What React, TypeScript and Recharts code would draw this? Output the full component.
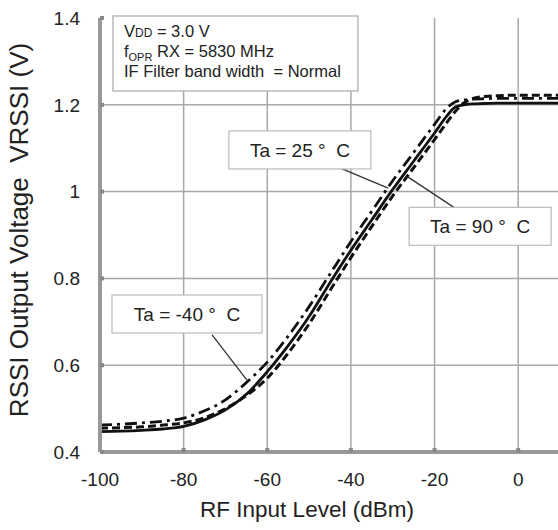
import { CartesianGrid, Label, Line, LineChart, ReferenceDot, ReferenceLine, XAxis, YAxis } from "recharts";

// RF input level (dBm) sample points shared by all three curves.
const inputLevels = [-100, -95, -90, -85, -80, -75, -70, -65, -60, -55, -50, -45, -40, -35, -30, -25, -20, -17, -15, -13, -11, -8, -5, 0, 5, 10];

// VRSSI (V) per ambient temperature.
const vrssi25 = [0.447, 0.448, 0.45, 0.453, 0.459, 0.474, 0.497, 0.533, 0.585, 0.645, 0.712, 0.79, 0.865, 0.935, 1.005, 1.07, 1.135, 1.175, 1.195, 1.2, 1.202, 1.203, 1.204, 1.204, 1.204, 1.204];
const vrssi90 = [0.455, 0.456, 0.458, 0.462, 0.467, 0.479, 0.5, 0.53, 0.57, 0.628, 0.695, 0.772, 0.848, 0.92, 0.99, 1.055, 1.12, 1.16, 1.185, 1.204, 1.214, 1.219, 1.221, 1.222, 1.222, 1.222];
const vrssiM40 = [0.462, 0.464, 0.467, 0.471, 0.478, 0.495, 0.52, 0.56, 0.607, 0.667, 0.735, 0.81, 0.885, 0.955, 1.025, 1.09, 1.155, 1.193, 1.207, 1.211, 1.213, 1.214, 1.215, 1.215, 1.215, 1.215];

const xTicks = [-100, -80, -60, -40, -20, 0];
const yTicks = [0.4, 0.6, 0.8, 1, 1.2, 1.4];

const FONT = "'Liberation Sans', Arial, sans-serif";
const INK = "#222";

const data = inputLevels.map((x, i) => ({
  x,
  t25: vrssi25[i],
  t90: vrssi90[i],
  tm40: vrssiM40[i],
}));

// Temperature call-outs: box centre and leader line, in data coordinates.
const callouts = [
  { text: "Ta = 25 °  C", x: -52.2, y: 1.096, w: 142, from: { x: -45.5, y: 1.066 }, to: { x: -31.1, y: 1.008 } },
  { text: "Ta = 90 °  C", x: -9.1, y: 0.92, w: 142, from: { x: -26.4, y: 1.034 }, to: { x: -15.1, y: 0.962 } },
  { text: "Ta = -40 °  C", x: -79.2, y: 0.718, w: 150, from: { x: -73.2, y: 0.67 }, to: { x: -64.9, y: 0.566 } },
];

function calloutShape(text: string, w: number) {
  return (props: any) => {
    const { cx, cy } = props;
    return (
      <g>
        <rect x={cx - w / 2} y={cy - 19} width={w} height={38} fill="#fff" stroke="#bbb" strokeWidth={1.2} />
        <text x={cx} y={cy + 7} textAnchor="middle" fontFamily={FONT} fontSize={19} fill={INK} style={{ whiteSpace: "pre" }}>
          {text}
        </text>
      </g>
    );
  };
}

function infoShape(props: any) {
  const { cx, cy } = props;
  const tx = cx + 11;
  return (
    <g fontFamily={FONT} fill={INK}>
      <rect x={cx} y={cy - 2} width={245} height={75} fill="#fff" stroke="#aaa" strokeWidth={1.2} />
      <text x={tx} y={cy + 19} fontSize={16.5} fill={INK}>
        V<tspan fontSize={12}>DD</tspan> = 3.0 V
      </text>
      <text x={tx} y={cy + 39} fontSize={16.5} fill={INK}>
        f<tspan fontSize={11} dy={4}>OPR</tspan>
        <tspan dy={-4}> RX = 5830 MHz</tspan>
      </text>
      <text x={tx} y={cy + 59} fontSize={16.5} fill={INK} style={{ whiteSpace: "pre" }}>
        {"IF Filter band width  = Normal"}
      </text>
    </g>
  );
}

export default function App() {
  return (
    <div style={{ position: "absolute", left: 0, top: 0, width: 558, height: 530, overflow: "hidden", background: "#fff" }}>
      <LineChart width={562} height={530} data={data} margin={{ top: 18, right: 2, bottom: 18, left: 0 }}>
        <CartesianGrid
          stroke="#a8a8a8"
          strokeWidth={1.5}
          horizontalValues={[0.6, 0.8, 1, 1.2]}
          verticalValues={[-80, -60, -40, -20, 0]}
        />
        <XAxis
          dataKey="x"
          type="number"
          domain={[-100, 10]}
          ticks={xTicks}
          height={60}
          axisLine={{ stroke: "#999", strokeWidth: 4 }}
          tickLine={{ stroke: "#888", strokeWidth: 4 }}
          tickSize={-4}
          tickMargin={25}
          tick={{ fontFamily: FONT, fontSize: 19, fill: INK }}
        >
          <Label
            content={() => (
              <text x={307} y={517} textAnchor="middle" fontFamily={FONT} fontSize={22.5} fill={INK}>
                RF Input Level (dBm)
              </text>
            )}
          />
        </XAxis>
        <YAxis
          type="number"
          domain={[0.4, 1.4]}
          ticks={yTicks}
          width={100}
          tickFormatter={(v) => String(v)}
          axisLine={{ stroke: "#999", strokeWidth: 4 }}
          tickLine={{ stroke: "#888", strokeWidth: 4 }}
          tickSize={-4}
          tickMargin={24}
          tick={{ fontFamily: FONT, fontSize: 19, fill: INK }}
        >
          <Label
            content={() => (
              <text
                x={28}
                y={230}
                transform="rotate(-90, 28, 230)"
                textAnchor="middle"
                fontFamily={FONT}
                fontSize={26}
                fill={INK}
                style={{ whiteSpace: "pre" }}
              >
                {"RSSI Output Voltage  VRSSI (V)"}
              </text>
            )}
          />
        </YAxis>

        <Line type="monotone" dataKey="tm40" stroke="#111" strokeWidth={2.8} strokeDasharray="12 5 3 5" dot={false} isAnimationActive={false} />
        <Line type="monotone" dataKey="t90" stroke="#111" strokeWidth={3} strokeDasharray="8 4" dot={false} isAnimationActive={false} />
        <Line type="monotone" dataKey="t25" stroke="#111" strokeWidth={2.8} dot={false} isAnimationActive={false} />

        {callouts.map((c) => (
          <ReferenceLine key={c.text + "l"} segment={[c.from, c.to]} stroke="#333" strokeWidth={1.3} ifOverflow="visible" />
        ))}
        {callouts.map((c) => (
          <ReferenceDot key={c.text} x={c.x} y={c.y} r={1} ifOverflow="visible" shape={calloutShape(c.text, c.w)} />
        ))}
        <ReferenceDot x={-96.9} y={1.4} r={1} ifOverflow="visible" shape={infoShape} />
      </LineChart>
    </div>
  );
}
